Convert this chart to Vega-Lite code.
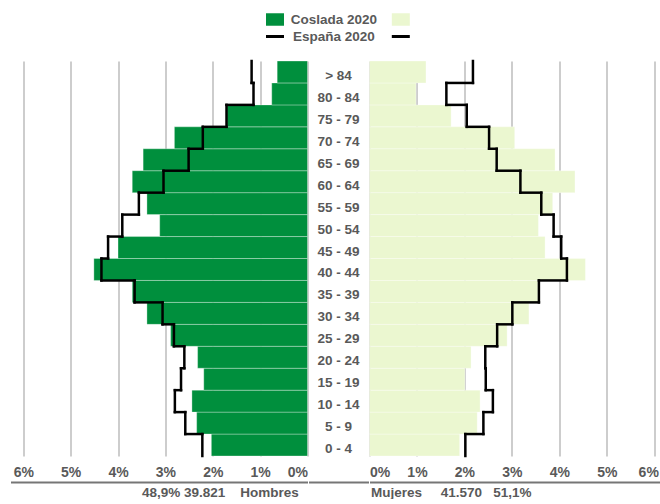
{
  "$schema": "https://vega.github.io/schema/vega-lite/v6.json",
  "background": "white",
  "padding": {"left": 10.5, "top": 2.5, "right": 0, "bottom": 0},
  "bounds": "flush",
  "spacing": 7.5,
  "config": {
    "view": {"stroke": null},
    "font": "Liberation Sans",
    "concat": {"spacing": 0}
  },
  "datasets": {
    "pop": [
      {"edad": "0 - 4", "desde": 0, "hasta": 5, "hombres": 2.03, "mujeres": 1.90, "espH": 2.22, "espM": 2.02},
      {"edad": "5 - 9", "desde": 5, "hasta": 10, "hombres": 2.34, "mujeres": 2.27, "espH": 2.58, "espM": 2.40},
      {"edad": "10 - 14", "desde": 10, "hasta": 15, "hombres": 2.44, "mujeres": 2.33, "espH": 2.80, "espM": 2.60},
      {"edad": "15 - 19", "desde": 15, "hasta": 20, "hombres": 2.19, "mujeres": 2.01, "espH": 2.67, "espM": 2.45},
      {"edad": "20 - 24", "desde": 20, "hasta": 25, "hombres": 2.32, "mujeres": 2.14, "espH": 2.60, "espM": 2.44},
      {"edad": "25 - 29", "desde": 25, "hasta": 30, "hombres": 2.89, "mujeres": 2.90, "espH": 2.82, "espM": 2.69},
      {"edad": "30 - 34", "desde": 30, "hasta": 35, "hombres": 3.39, "mujeres": 3.36, "espH": 3.06, "espM": 3.01},
      {"edad": "35 - 39", "desde": 35, "hasta": 40, "hombres": 3.70, "mujeres": 3.55, "espH": 3.65, "espM": 3.57},
      {"edad": "40 - 44", "desde": 40, "hasta": 45, "hombres": 4.51, "mujeres": 4.55, "espH": 4.35, "espM": 4.16},
      {"edad": "45 - 49", "desde": 45, "hasta": 50, "hombres": 4.00, "mujeres": 3.70, "espH": 4.21, "espM": 4.04},
      {"edad": "50 - 54", "desde": 50, "hasta": 55, "hombres": 3.12, "mujeres": 3.56, "espH": 3.91, "espM": 3.88},
      {"edad": "55 - 59", "desde": 55, "hasta": 60, "hombres": 3.39, "mujeres": 3.86, "espH": 3.56, "espM": 3.62},
      {"edad": "60 - 64", "desde": 60, "hasta": 65, "hombres": 3.70, "mujeres": 4.33, "espH": 3.04, "espM": 3.18},
      {"edad": "65 - 69", "desde": 65, "hasta": 70, "hombres": 3.47, "mujeres": 3.91, "espH": 2.51, "espM": 2.68},
      {"edad": "70 - 74", "desde": 70, "hasta": 75, "hombres": 2.81, "mujeres": 3.06, "espH": 2.21, "espM": 2.52},
      {"edad": "75 - 79", "desde": 75, "hasta": 80, "hombres": 1.70, "mujeres": 1.72, "espH": 1.71, "espM": 2.05},
      {"edad": "80 - 84", "desde": 80, "hasta": 85, "hombres": 0.755, "mujeres": 0.98, "espH": 1.14, "espM": 1.62},
      {"edad": "> 84", "desde": 85, "hasta": 90, "hombres": 0.64, "mujeres": 1.19, "espH": 1.18, "espM": 2.18}
    ],
    "leyenda": [
      {"serie": "Coslada 2020", "lado": "L", "simbolo": "hombres"},
      {"serie": "Coslada 2020", "lado": "R", "simbolo": "mujeres"},
      {"serie": "España 2020", "lado": "L", "simbolo": "linea"},
      {"serie": "España 2020", "lado": "R", "simbolo": "linea"}
    ]
  },
  "vconcat": [
    {
      "width": 649.5,
      "height": 51,
      "data": {"name": "leyenda"},
      "layer": [
        {
          "transform": [{"filter": "datum.simbolo != 'linea'"}],
          "mark": {"type": "point", "shape": "M-1.44,-1H1.44V1H-1.44Z", "filled": true, "size": 156, "opacity": 1},
          "encoding": {
            "x": {"field": "lado", "type": "nominal", "scale": {"type": "point", "domain": ["L", "C", "R"], "range": [264.5, 390.3], "padding": 0}, "axis": null},
            "y": {"field": "serie", "type": "nominal", "scale": {"type": "point", "domain": ["Coslada 2020", "España 2020"], "padding": 1}, "axis": null},
            "color": {"field": "simbolo", "type": "nominal", "scale": {"domain": ["hombres", "mujeres"], "range": ["#008f3d", "#ebf7d0"]}, "legend": null}
          }
        },
        {
          "transform": [{"filter": "datum.simbolo == 'linea'"}],
          "mark": {"type": "point", "shape": "M-1,0H1", "filled": false, "size": 324, "stroke": "#000000", "strokeWidth": 3, "opacity": 1},
          "encoding": {
            "x": {"field": "lado", "type": "nominal"},
            "y": {"field": "serie", "type": "nominal"}
          }
        },
        {
          "transform": [{"filter": "datum.lado == 'L'"}],
          "mark": {"type": "text", "fontSize": 13.5, "fontWeight": "bold", "color": "#595959", "dx": -4, "baseline": "middle"},
          "encoding": {
            "x": {"datum": "C", "type": "nominal"},
            "y": {"field": "serie", "type": "nominal"},
            "text": {"field": "serie"}
          }
        }
      ]
    },
    {
      "hconcat": [
        {
          "width": 297,
          "height": 395,
          "data": {"name": "pop"},
          "layer": [
            {
              "mark": {"type": "rect", "color": "#008f3d", "stroke": "#ffffff", "strokeWidth": 0.8, "strokeOpacity": 0.4},
              "encoding": {
                "x": {
                  "field": "hombres", "type": "quantitative",
                  "scale": {"domain": [0, 6.27], "reverse": true, "nice": false, "zero": true},
                  "axis": {
                    "values": [0, 1, 2, 3, 4, 5, 6],
                    "labelExpr": "datum.value + '%'",
                    "grid": true, "gridColor": "#bdbdbd", "gridWidth": 1.5,
                    "domain": true, "domainColor": "#767676", "domainWidth": 2,
                    "offset": 26, "ticks": false, "tickSize": 0,
                    "labelPadding": -10, "labelBaseline": "middle",
                    "labelFontSize": 14, "labelFontWeight": "bold", "labelColor": "#595959",
                    "labelOverlap": false,
                    "title": "48,9%\u00a039.821\u00a0\u00a0\u00a0\u00a0Hombres",
                    "titleX": 287.8, "titleY": 10, "titleAlign": "right", "titleAnchor": null,
                    "titleBaseline": "middle", "titleFontSize": 13.5, "titleFontWeight": "bold", "titleColor": "#595959"
                  }
                },
                "x2": {"datum": 0},
                "y": {"field": "desde", "type": "quantitative", "scale": {"domain": [0, 90], "nice": false}, "axis": null},
                "y2": {"field": "hasta"}
              }
            },
            {
              "mark": {"type": "rule", "color": "#000000", "strokeWidth": 2.5, "strokeCap": "square"},
              "encoding": {
                "x": {"field": "espH", "type": "quantitative"},
                "y": {"field": "desde", "type": "quantitative"},
                "y2": {"field": "hasta"}
              }
            },
            {
              "transform": [
                {"window": [{"op": "lead", "field": "espH", "as": "sigH"}], "sort": [{"field": "desde", "order": "ascending"}]},
                {"filter": "datum.sigH != null"}
              ],
              "mark": {"type": "rule", "color": "#000000", "strokeWidth": 2.5, "strokeCap": "square"},
              "encoding": {
                "x": {"field": "espH", "type": "quantitative"},
                "x2": {"field": "sigH"},
                "y": {"field": "hasta", "type": "quantitative"}
              }
            }
          ]
        },
        {
          "width": 60,
          "height": 395,
          "data": {"name": "pop"},
          "mark": {"type": "text", "fontSize": 13.5, "fontWeight": "bold", "color": "#595959", "dy": 4, "baseline": "middle"},
          "encoding": {
            "text": {"field": "edad"},
            "y": {"field": "edad", "type": "ordinal", "sort": {"field": "desde", "op": "min", "order": "descending"}, "scale": {"paddingInner": 0, "paddingOuter": 0}, "axis": null},
            "x": {"datum": 0.5, "type": "quantitative", "scale": {"domain": [0, 1]},
                  "axis": {"labels": false, "ticks": false, "grid": false, "domain": true, "domainColor": "#767676", "domainWidth": 2, "offset": 26, "title": null}}
          }
        },
        {
          "width": 292.5,
          "height": 395,
          "data": {"name": "pop"},
          "layer": [
            {
              "mark": {"type": "rect", "color": "#ebf7d0", "stroke": "#ffffff", "strokeWidth": 0.8, "strokeOpacity": 0.4},
              "encoding": {
                "x": {
                  "field": "mujeres", "type": "quantitative",
                  "scale": {"domain": [0, 6.164], "nice": false, "zero": true},
                  "axis": {
                    "values": [0, 1, 2, 3, 4, 5, 6],
                    "labelExpr": "datum.value + '%'",
                    "grid": true, "gridColor": "#bdbdbd", "gridWidth": 1.5,
                    "domain": true, "domainColor": "#767676", "domainWidth": 2,
                    "offset": 26, "ticks": false, "tickSize": 0,
                    "labelPadding": -10, "labelBaseline": "middle",
                    "labelFontSize": 14, "labelFontWeight": "bold", "labelColor": "#595959",
                    "labelOffset": {"condition": {"test": "datum.value == 6", "value": -6}, "value": 0},
                    "labelOverlap": false,
                    "title": "Mujeres\u00a0\u00a0\u00a0\u00a0\u00a041.570\u00a0\u00a0\u00a051,1%",
                    "titleX": 1, "titleY": 10, "titleAlign": "left", "titleAnchor": null,
                    "titleBaseline": "middle", "titleFontSize": 13.5, "titleFontWeight": "bold", "titleColor": "#595959"
                  }
                },
                "x2": {"datum": 0},
                "y": {"field": "desde", "type": "quantitative", "scale": {"domain": [0, 90], "nice": false}, "axis": null},
                "y2": {"field": "hasta"}
              }
            },
            {
              "mark": {"type": "rule", "color": "#000000", "strokeWidth": 2.5, "strokeCap": "square"},
              "encoding": {
                "x": {"field": "espM", "type": "quantitative"},
                "y": {"field": "desde", "type": "quantitative"},
                "y2": {"field": "hasta"}
              }
            },
            {
              "transform": [
                {"window": [{"op": "lead", "field": "espM", "as": "sigM"}], "sort": [{"field": "desde", "order": "ascending"}]},
                {"filter": "datum.sigM != null"}
              ],
              "mark": {"type": "rule", "color": "#000000", "strokeWidth": 2.5, "strokeCap": "square"},
              "encoding": {
                "x": {"field": "espM", "type": "quantitative"},
                "x2": {"field": "sigM"},
                "y": {"field": "hasta", "type": "quantitative"}
              }
            }
          ]
        }
      ]
    }
  ]
}
